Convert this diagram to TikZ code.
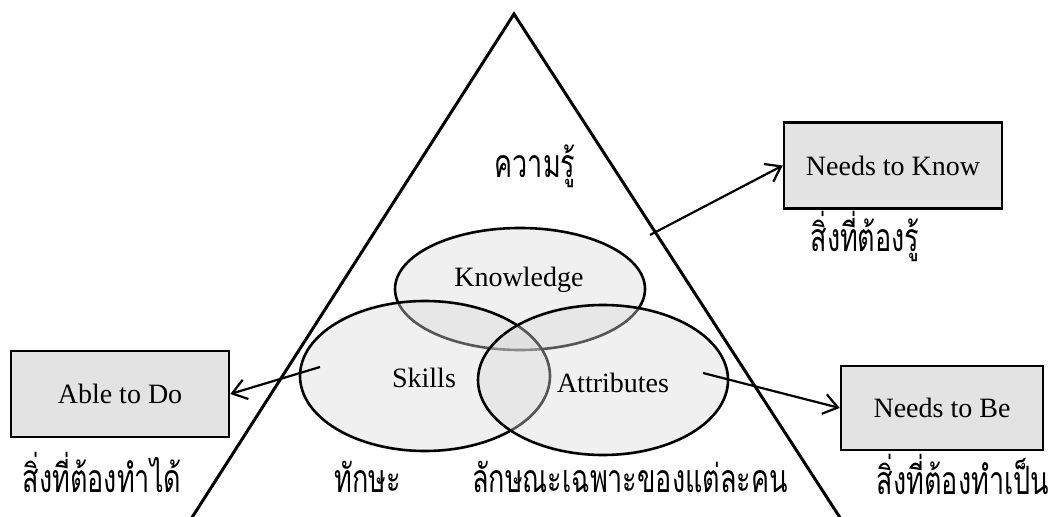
\documentclass[tikz,border=0pt]{standalone}
\usepackage{fontspec}
\usepackage{graphicx}
\setmainfont{Liberation Serif}
\newfontfamily\thaifont[Script=Thai]{Loma}
\newcommand{\tallthai}[1]{\scalebox{1}[1.45]{#1}}
\usepackage{tikz}
\usetikzlibrary{shapes.geometric, arrows.meta}

\begin{document}
\begin{tikzpicture}[x=0.5pt, y=-0.5pt]
\tikzset{
    circ/.style={ellipse, draw, line width=1.3pt, fill=black!15, fill opacity=0.4,
        minimum width=125pt, minimum height=75pt, inner sep=0pt},
    box/.style={rectangle, draw, line width=1.3pt, fill=black!11,
        minimum width=109pt, minimum height=43pt, font=\fontsize{14}{16}\selectfont},
    word/.style={font=\fontsize{14}{16}\selectfont},
    thai/.style={font=\thaifont\fontsize{13.5}{16}\selectfont, anchor=base, inner sep=0pt},
    link/.style={line width=1.1pt, -{Straight Barb[length=7pt, width=10pt]}}
}
\useasboundingbox (0,0) rectangle (1052,517);

% Triangle
\coordinate (top) at (514,14);
\coordinate (bl) at (184,530);
\coordinate (br) at (848,530);
\draw[line width=1.5pt] (bl) -- (top) -- (br);

% Circles
\node[circ, minimum height=61pt] (kn) at (520,289){};
\node[circ] (sk) at (425,376){};
\node[circ] (at) at (603,380){};

\node[word] (knt) at (519,280){Knowledge};
\node[word] (skt) at (424,378){Skills};
\node[word] (att) at (613,383){Attributes};

% Boxes
\node[box] (know) at (893,165.5){Needs to Know};
\node[box] (able) at (120,394){Able to Do};
\node[box, minimum width=101pt, minimum height=42pt] (be) at (942,408){Needs to Be};

% Arrows
\coordinate (knout) at (650,235);
\coordinate (skout) at (320,367);
\coordinate (atout) at (703,373);
\draw[link] (knout) -- (know.west);
\draw[link] (skout) -- (able.east);
\draw[link] (atout) -- (be.west);

% Thai captions
\node[thai] (knth) at (535,178){\tallthai{ความรู้}};
\node[thai] (knowth) at (865,252){\tallthai{สิ่งที่ต้องรู้}};
\node[thai] (ableth) at (102,492){\tallthai{สิ่งที่ต้องทำได้}};
\node[thai] (skth) at (368,492){\tallthai{ทักษะ}};
\node[thai] (atth) at (630,492){\tallthai{ลักษณะเฉพาะของแต่ละคน}};
\node[thai] (beth) at (963,494){\tallthai{สิ่งที่ต้องทำเป็น}};

\end{tikzpicture}
\end{document}
